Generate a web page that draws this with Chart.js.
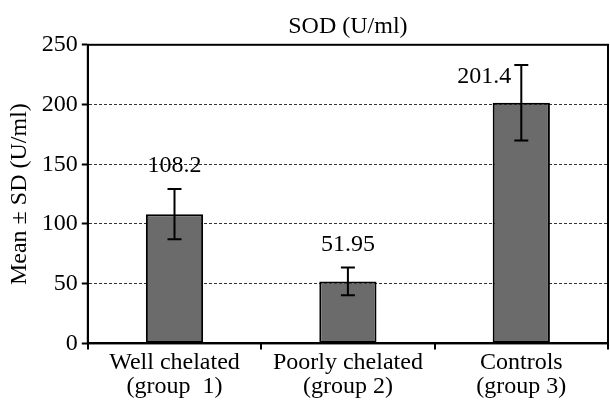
<!DOCTYPE html>
<html>
<head>
<meta charset="utf-8">
<script src="https://cdn.jsdelivr.net/npm/chart.js@4.4.1/dist/chart.umd.min.js"></script>
<style>
  html, body { margin: 0; padding: 0; background: #fff; }
  #wrap { width: 610px; height: 400px; }
</style>
</head>
<body>
<div id="wrap"><canvas id="c" width="610" height="400"></canvas></div>
<script>
// SOD activity by group
const groups = [["Well chelated", "(group  1)"], ["Poorly chelated", "(group 2)"], ["Controls", "(group 3)"]];
const means = [108.2, 51.95, 201.4];
const sds = [21, 11.6, 31.6];
const yTicks = [0, 50, 100, 150, 200, 250];

const serif = "'Liberation Serif', 'Times New Roman', serif";

// Error bars and mean labels drawn over the bars
const errorBars = {
  id: 'errorBars',
  afterDatasetsDraw(chart) {
    const ctx = chart.ctx;
    const y = chart.scales.y;
    const meta = chart.getDatasetMeta(0);
    ctx.save();
    ctx.strokeStyle = '#000';
    ctx.lineWidth = 2;
    meta.data.forEach((bar, i) => {
      const x = bar.x;
      const top = y.getPixelForValue(means[i] + sds[i]);
      const bot = y.getPixelForValue(means[i] - sds[i]);
      const cap = 7;
      ctx.beginPath();
      ctx.moveTo(x, top); ctx.lineTo(x, bot);
      ctx.moveTo(x - cap, top); ctx.lineTo(x + cap, top);
      ctx.moveTo(x - cap, bot); ctx.lineTo(x + cap, bot);
      ctx.stroke();

      ctx.fillStyle = '#000';
      ctx.font = '24px ' + serif;
      ctx.textBaseline = 'middle';
      const label = String(means[i]);
      const ly = top - 23;
      if (ly - 12 < chart.chartArea.top) {
        // not enough room above: put it beside the upper cap
        ctx.textAlign = 'right';
        ctx.fillText(label, x - 10, top + 12);
      } else {
        ctx.textAlign = 'center';
        ctx.fillText(label, x, ly);
      }
    });
    ctx.restore();
  }
};

// Frame around the plot area
const frame = {
  id: 'frame',
  afterDraw(chart) {
    const a = chart.chartArea;
    const ctx = chart.ctx;
    ctx.save();
    ctx.strokeStyle = '#000';
    ctx.lineWidth = 2;
    ctx.strokeRect(a.left, a.top, a.right - a.left, a.bottom - a.top);
    ctx.restore();
  }
};

new Chart(document.getElementById('c'), {
  type: 'bar',
  data: {
    labels: groups,
    datasets: [{
      data: means,
      backgroundColor: '#6b6b6b',
      borderColor: '#000',
      borderWidth: 2,
      borderSkipped: false,
      barPercentage: 0.33,
      categoryPercentage: 1
    }]
  },
  options: {
    responsive: false,
    animation: false,
    devicePixelRatio: 1,
    layout: { padding: { top: 0, right: 2, left: 0, bottom: 0 } },
    plugins: {
      legend: { display: false },
      tooltip: { enabled: false },
      title: {
        display: true,
        text: 'SOD (U/ml)',
        fullSize: false,
        color: '#000',
        font: { family: serif, size: 24, weight: 'normal', lineHeight: 1.2 },
        padding: { top: 12, bottom: 4 }
      }
    },
    scales: {
      x: {
        grid: { offset: true, drawOnChartArea: false, drawTicks: true, tickLength: 6, color: '#000', lineWidth: 2 },
        border: { display: true, color: '#000', width: 2 },
        ticks: { color: '#000', font: { family: serif, size: 24, lineHeight: 0.97 }, padding: 2, maxRotation: 0 }
      },
      y: {
        min: 0,
        max: 250,
        afterBuildTicks(scale) { scale.ticks = yTicks.map(v => ({ value: v })); },
        grid: {
          color: (c) => (c.tick && c.tick.value > 0 && c.tick.value < 250) ? '#333' : 'rgba(0,0,0,0)',
          lineWidth: 1,
          drawTicks: true,
          tickLength: 6,
          tickColor: '#000',
          tickWidth: 2,
          tickBorderDash: []
        },
        border: { display: true, color: '#000', width: 2, dash: [3, 2] },
        ticks: { color: '#000', font: { family: serif, size: 24 }, padding: 4 },
        title: { display: true, text: 'Mean ± SD (U/ml)', color: '#000', font: { family: serif, size: 24, lineHeight: 1.2 }, padding: { top: 5, bottom: 4 } }
      }
    }
  },
  plugins: [errorBars, frame]
});
</script>
</body>
</html>
